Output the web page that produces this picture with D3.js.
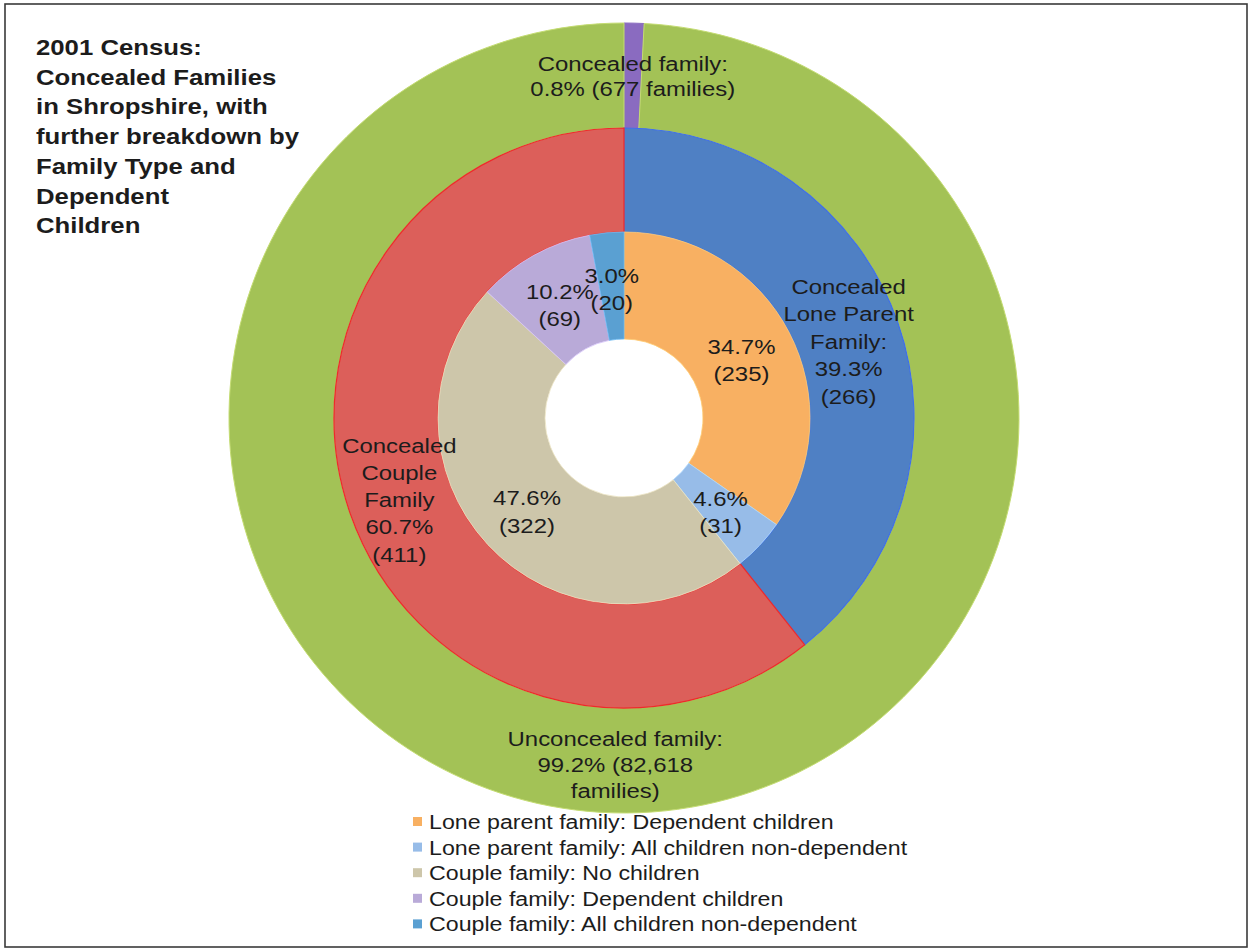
<!DOCTYPE html>
<html>
<head>
<meta charset="utf-8">
<script src="https://cdn.jsdelivr.net/npm/d3@7/dist/d3.min.js"></script>
<style>
  html, body { margin: 0; padding: 0; background: #ffffff; }
  svg { display: block; }
  text { font-family: "Liberation Sans", Arial, sans-serif; fill: #1c1c1c; }
</style>
</head>
<body>
<svg id="chart" width="1249" height="949"></svg>
<script>
// Outer ring: all families split by concealment
const outerNames  = ["Concealed family", "Unconcealed family"];
const outerValues = [677, 82618];
const outerColors = ["#8a6bc0", "#a3c256"];

// Middle ring: concealed families by family type
const middleNames  = ["Lone Parent", "Couple"];
const middleValues = [266, 411];
const middleColors = ["#4f80c4", "#dc5f5a"];
const middleStrokes = ["#3f6fe8", "#ee2a2a"];

// Inner ring: concealed families by dependent children
const innerNames = [
  "Lone parent family: Dependent children",
  "Lone parent family: All children non-dependent",
  "Couple family: No children",
  "Couple family: Dependent children",
  "Couple family: All children non-dependent"
];
const innerValues = [235, 31, 322, 69, 20];
const innerColors = ["#f8b062", "#97bce8", "#cdc6aa", "#b9aad8", "#5aa0d2"];

const titleLines = [
  "2001 Census:",
  "Concealed Families",
  "in Shropshire, with",
  "further breakdown by",
  "Family  Type and",
  "Dependent",
  "Children"
];

const svg = d3.select("#chart");
const cx = 624, cy = 418;
const rHole = 79, rInner = 186, rMiddle = 290, rOuter = 395;

// frame round the whole figure
svg.append("rect")
  .attr("x", 5).attr("y", 4).attr("width", 1242).attr("height", 943)
  .attr("fill", "none").attr("stroke", "#3a3a3a").attr("stroke-width", 1.6);

const g = svg.append("g").attr("transform", `translate(${cx},${cy})`);
const pie = d3.pie().sort(null).value(d => d);
const pct = (v, tot) => (v / tot * 100).toFixed(1) + "%";
const fmt = d3.format(",");

function ring(values, r0, r1, fills, strokes, sw) {
  const arcs = pie(values);
  const arc = d3.arc().innerRadius(r0).outerRadius(r1);
  g.append("g").selectAll("path").data(arcs).join("path")
    .attr("d", arc)
    .attr("fill", (d, i) => fills[i])
    .attr("stroke", (d, i) => strokes[i])
    .attr("stroke-width", sw);
  return { arcs, arc };
}

const outer  = ring(outerValues, rMiddle, rOuter, outerColors, ["#8a6bc0", "#c4dc72"], 1);
const middle = ring(middleValues, rInner, rMiddle, middleColors, middleStrokes, 1.2);
const inner  = ring(innerValues, rHole, rInner, innerColors, innerColors.map(c => d3.color(c).brighter(0.4)), 0.8);

// Multi-line label centred on a point; glyphs drawn slightly wide
function label(lines, x, y, lh, size, sx) {
  const top = y - (lines.length - 1) / 2 * lh + size * 0.36;
  lines.forEach((t, i) => {
    svg.append("text")
      .attr("transform", `translate(${x},${top + i * lh}) scale(${sx},1)`)
      .attr("text-anchor", "middle")
      .attr("font-size", size)
      .text(t);
  });
}

const outerTotal = d3.sum(outerValues);
const concTotal = d3.sum(middleValues);

// outer ring labels
const outerArcLbl = d3.arc().innerRadius(rMiddle).outerRadius(rOuter);
{
  const c0 = outerArcLbl.centroid(outer.arcs[0]);
  label([outerNames[0] + ":", `${pct(outerValues[0], outerTotal)} (${fmt(outerValues[0])} families)`],
        cx + c0[0], cy + c0[1], 25, 21, 1.14);
  const c1 = outerArcLbl.centroid(outer.arcs[1]);
  label([outerNames[1] + ":", `${pct(outerValues[1], outerTotal)} (${fmt(outerValues[1])}`, "families)"],
        cx + c1[0], cy + c1[1] + 4, 26, 21, 1.14);
}

// middle ring labels
{
  const c0 = middle.arc.centroid(middle.arcs[0]);
  label(["Concealed", "Lone Parent", "Family:", pct(middleValues[0], concTotal), `(${middleValues[0]})`],
        cx + c0[0], cy + c0[1] + 2, 27.5, 21, 1.14);
  const c1 = middle.arc.centroid(middle.arcs[1]);
  label(["Concealed", "Couple", "Family", pct(middleValues[1], concTotal), `(${middleValues[1]})`],
        cx + c1[0], cy + c1[1] + 3, 27.3, 21, 1.14);
}

// inner ring labels
inner.arcs.forEach((a, i) => {
  const c = inner.arc.centroid(a);
  label([pct(innerValues[i], concTotal), `(${innerValues[i]})`], cx + c[0], cy + c[1] + 3, 27.5, 21, 1.14);
});

// title
titleLines.forEach((t, i) => {
  svg.append("text")
    .attr("transform", `translate(36,${55 + i * 29.7}) scale(1.17,1)`)
    .attr("font-size", 22)
    .attr("font-weight", "bold")
    .attr("fill", "#1e1e1e")
    .text(t);
});

// legend
const legend = svg.append("g");
innerNames.forEach((n, i) => {
  const y = 829 + i * 25.6;
  legend.append("rect")
    .attr("x", 413).attr("y", y - 12).attr("width", 9).attr("height", 9)
    .attr("fill", innerColors[i]);
  legend.append("text")
    .attr("transform", `translate(429,${y}) scale(1.16,1)`)
    .attr("font-size", 20)
    .text(n);
});
</script>
</body>
</html>
